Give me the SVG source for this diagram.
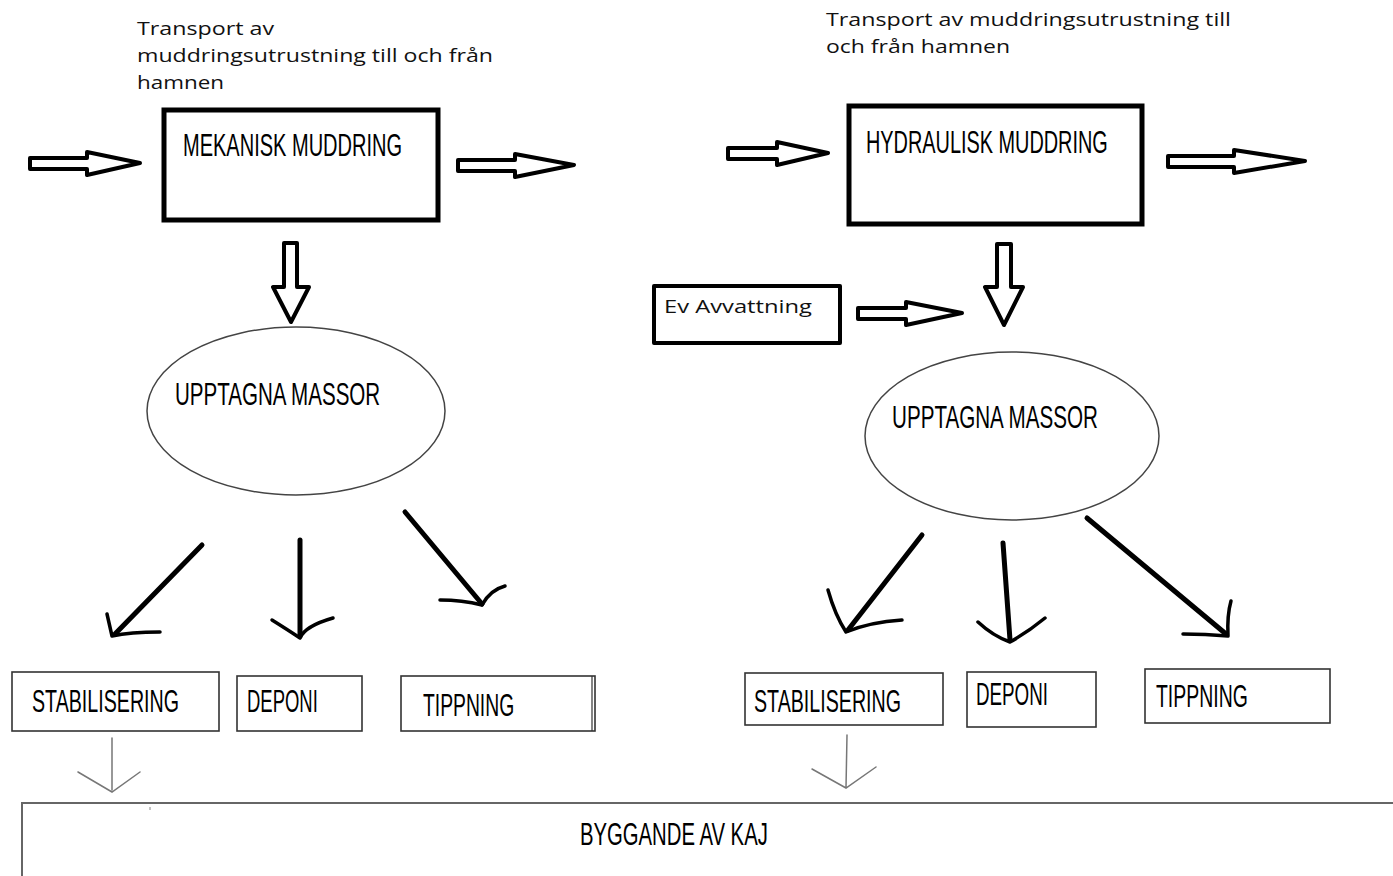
<svg xmlns="http://www.w3.org/2000/svg" width="1393" height="876" viewBox="0 0 1393 876">
<style>
.note{font-family:"Open Sans","Liberation Sans",sans-serif;font-size:19px;fill:#111}
.lbl{font-family:"Liberation Sans","DejaVu Sans",sans-serif;font-size:31px;fill:#000}
.thick{fill:#fff;stroke:#000;stroke-width:5}
.thin{fill:#fff;stroke:#333;stroke-width:1.6}
.ell{fill:#fff;stroke:#444;stroke-width:1.5}
.block{fill:#fff;stroke:#000;stroke-width:4;stroke-linejoin:round}
.hand{fill:none;stroke:#000;stroke-width:5;stroke-linecap:round;stroke-linejoin:round}
.handhead{fill:none;stroke:#000;stroke-width:3.5;stroke-linecap:round;stroke-linejoin:round}
.light{fill:none;stroke:#777;stroke-width:1.5;stroke-linecap:round}
</style>
<rect width="1393" height="876" fill="#fff"/>
<g id="note-left">
<text class="note" x="137" y="35" textLength="137" lengthAdjust="spacingAndGlyphs">Transport av</text>
<text class="note" x="137" y="62" textLength="356" lengthAdjust="spacingAndGlyphs">muddringsutrustning till och från</text>
<text class="note" x="137" y="89" textLength="87" lengthAdjust="spacingAndGlyphs">hamnen</text>
</g>
<g id="note-right">
<text class="note" x="826" y="26" textLength="405" lengthAdjust="spacingAndGlyphs">Transport av muddringsutrustning till</text>
<text class="note" x="826" y="53" textLength="184" lengthAdjust="spacingAndGlyphs">och från hamnen</text>
</g>
<g id="mekanisk">
<rect class="thick" x="164" y="110" width="274" height="110"/>
<text class="lbl" transform="translate(183,156) scale(0.6,1)" textLength="365" lengthAdjust="spacingAndGlyphs">MEKANISK MUDDRING</text>
</g>
<g id="hydraulisk">
<rect class="thick" x="849" y="106" width="293" height="118"/>
<text class="lbl" transform="translate(866,153) scale(0.6,1)" textLength="403" lengthAdjust="spacingAndGlyphs">HYDRAULISK MUDDRING</text>
</g>
<g id="avvattning">
<rect class="block" x="654" y="286" width="186" height="57"/>
<text class="note" x="664" y="313" textLength="148" lengthAdjust="spacingAndGlyphs">Ev Avvattning</text>
</g>
<g id="massor-left">
<ellipse class="ell" cx="296" cy="411" rx="149" ry="84"/>
<text class="lbl" transform="translate(175,405) scale(0.6,1)" textLength="342" lengthAdjust="spacingAndGlyphs">UPPTAGNA MASSOR</text>
</g>
<g id="massor-right">
<ellipse class="ell" cx="1012" cy="436" rx="147" ry="84"/>
<text class="lbl" transform="translate(892,428) scale(0.6,1)" textLength="343" lengthAdjust="spacingAndGlyphs">UPPTAGNA MASSOR</text>
</g>
<g id="stab-left">
<rect class="thin" x="12" y="672" width="207" height="59"/>
<text class="lbl" transform="translate(32,712) scale(0.6,1)" textLength="245" lengthAdjust="spacingAndGlyphs">STABILISERING</text>
</g>
<g id="deponi-left">
<rect class="thin" x="237" y="676" width="125" height="55"/>
<text class="lbl" transform="translate(247,712) scale(0.6,1)" textLength="118" lengthAdjust="spacingAndGlyphs">DEPONI</text>
</g>
<g id="tipp-left">
<rect class="thin" x="401" y="676" width="194" height="55"/>
<line x1="592" y1="676" x2="592" y2="731" stroke="#333" stroke-width="1.2"/>
<text class="lbl" transform="translate(423,716) scale(0.6,1)" textLength="152" lengthAdjust="spacingAndGlyphs">TIPPNING</text>
</g>
<g id="stab-right">
<rect class="thin" x="745" y="673" width="198" height="52"/>
<text class="lbl" transform="translate(754,712) scale(0.6,1)" textLength="245" lengthAdjust="spacingAndGlyphs">STABILISERING</text>
</g>
<g id="deponi-right">
<rect class="thin" x="967" y="672" width="129" height="55"/>
<text class="lbl" transform="translate(976,705) scale(0.6,1)" textLength="120" lengthAdjust="spacingAndGlyphs">DEPONI</text>
</g>
<g id="tipp-right">
<rect class="thin" x="1145" y="669" width="185" height="54"/>
<text class="lbl" transform="translate(1156,707) scale(0.6,1)" textLength="153" lengthAdjust="spacingAndGlyphs">TIPPNING</text>
</g>
<g id="kaj">
<path d="M22,876 L22,803 L1393,803" fill="none" stroke="#666" stroke-width="2"/>
<line x1="150" y1="807" x2="150" y2="810" stroke="#888" stroke-width="1"/>
<text class="lbl" transform="translate(580,845) scale(0.6,1)" textLength="313" lengthAdjust="spacingAndGlyphs">BYGGANDE AV KAJ</text>
</g>
<g id="connectors">
<path class="block" d="M30,158 L87,158 L87,152 L140,163 L87,175 L87,169 L30,169 Z"/>
<path class="block" d="M458,160 L515,160 L515,154 L574,165 L515,177 L515,171 L458,171 Z"/>
<path class="block" d="M728,148 L777,148 L777,142 L828,153 L777,165 L777,159 L728,159 Z"/>
<path class="block" d="M1168,156 L1234,156 L1234,150 L1305,161 L1234,173 L1234,167 L1168,167 Z"/>
<path class="block" d="M858,308 L906,308 L906,302 L962,313 L906,325 L906,319 L858,319 Z"/>
<path class="block" d="M284,243 L297,243 L297,287 L309,287 L291,322 L273,287 L284,287 Z"/>
<path class="block" d="M997,244 L1011,244 L1011,287 L1023,287 L1004,325 L985,287 L997,287 Z"/>
<line class="hand" x1="202" y1="545" x2="115" y2="634"/>
<path class="handhead" d="M107,614 L112,636 Q130,632 160,632"/>
<line class="hand" x1="300" y1="540" x2="300" y2="636"/>
<path class="handhead" d="M272,620 Q288,630 300,638 Q305,626 333,618"/>
<line class="hand" x1="405" y1="512" x2="482" y2="604"/>
<path class="handhead" d="M440,600 Q462,600 482,605 Q490,590 505,586"/>
<line class="hand" x1="922" y1="535" x2="848" y2="630"/>
<path class="handhead" d="M828,590 Q835,615 846,632 Q870,622 902,620"/>
<line class="hand" x1="1003" y1="543" x2="1010" y2="640"/>
<path class="handhead" d="M978,622 Q993,636 1010,642 Q1028,632 1045,618"/>
<line class="hand" x1="1087" y1="518" x2="1226" y2="634"/>
<path class="handhead" d="M1183,634 Q1205,634 1228,636 Q1227,615 1231,601"/>
<path class="light" d="M112,738 L112,790 M78,772 L112,792 L140,772"/>
<path class="light" d="M847,735 L846,788 M812,769 L846,788 L876,767"/>
</g>
</svg>
